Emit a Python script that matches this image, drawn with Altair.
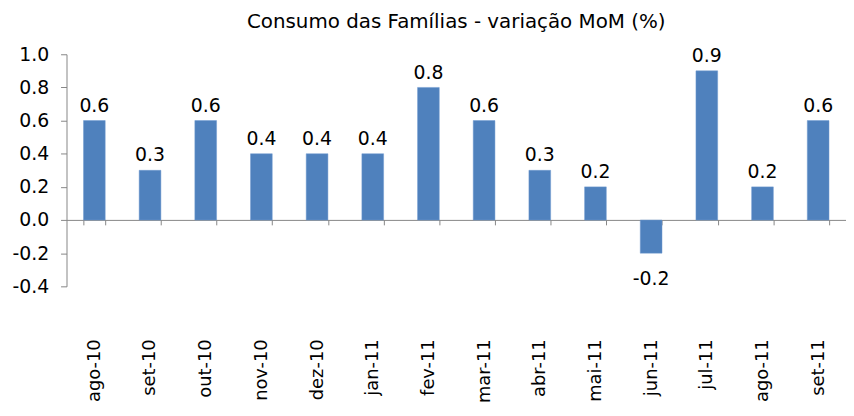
import altair as alt
import pandas as pd

months = ["ago-10", "set-10", "out-10", "nov-10", "dez-10", "jan-11", "fev-11",
          "mar-11", "abr-11", "mai-11", "jun-11", "jul-11", "ago-11", "set-11"]
values = [0.6, 0.3, 0.6, 0.4, 0.4, 0.4, 0.8, 0.6, 0.3, 0.2, -0.2, 0.9, 0.2, 0.6]
y_ticks = [-0.4, -0.2, 0.0, 0.2, 0.4, 0.6, 0.8, 1.0]

df = pd.DataFrame({"mes": months, "v": values})

FONT = "DejaVu Sans"
GREY = "#868686"
FIX_MINUS = "replace(datum.label, '\u2212', '-')"

x = alt.X("mes:N", sort=months, title=None,
          scale=alt.Scale(paddingInner=0.61, paddingOuter=0.305),
          axis=alt.Axis(labelAngle=270, offset=-67, tickBand="extent",
                        labelPadding=115, tickSize=5, tickColor=GREY,
                        domainColor=GREY, labelFont=FONT, labelFontSize=18,
                        labelColor="black", labelOverlap=False))
y = alt.Y("v:Q", title=None,
          scale=alt.Scale(domain=[-0.4, 1.0], nice=False, zero=False),
          axis=alt.Axis(values=y_ticks, format=".1f", labelExpr=FIX_MINUS,
                        grid=False, tickSize=6, labelOverlap=False,
                        tickColor=GREY, domainColor=GREY, labelFont=FONT,
                        labelFontSize=19, labelColor="black", labelPadding=12))

base = alt.Chart(df).transform_calculate(
    lbl="replace(format(datum.v, '.1f'), '\u2212', '-')"
).encode(x=x, y=y)

bars = base.mark_bar(color="#4F81BD", stroke="#6F9AD0", strokeWidth=0.5).encode(
    y2=alt.datum(0))
pos = base.transform_filter("datum.v >= 0").mark_text(
    baseline="bottom", dy=-5, font=FONT, fontSize=19, color="black"
).encode(text="lbl:N")
neg = base.transform_filter("datum.v < 0").mark_text(
    baseline="top", dy=17, font=FONT, fontSize=19, color="black"
).encode(text="lbl:N")

chart = alt.layer(bars, pos, neg).properties(
    width=786, height=234,
    title=alt.Title("Consumo das Famílias - variação MoM (%)", font=FONT,
                    fontSize=20, fontWeight="normal", color="black", offset=14),
    autosize=alt.AutoSizeParams(type="none"),
    padding={"left": 59, "top": 45, "right": 0, "bottom": 121},
).configure_view(stroke=None)

chart.save("out.html", embed_options={"renderer": "svg", "actions": False})
